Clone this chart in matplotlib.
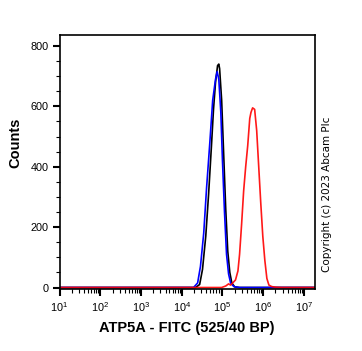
import numpy as np
import matplotlib.pyplot as plt
from matplotlib.ticker import LogLocator, MultipleLocator

plt.rcParams['font.family'] = ['Liberation Sans', 'DejaVu Sans']

# histogram curves: log10(intensity), counts
black_log = [1.0, 4.34, 4.44, 4.51, 4.59, 4.66, 4.73, 4.78, 4.83, 4.88, 4.91, 4.93,
             4.98, 5.03, 5.08, 5.13, 5.18, 5.23, 5.30, 5.42, 7.3]
black_cnt = [0, 0, 10, 60, 170, 310, 470, 590, 680, 735, 740, 725,
             620, 440, 260, 120, 50, 15, 2, 0, 0]

blue_log = [1.0, 4.29, 4.39, 4.46, 4.54, 4.61, 4.69, 4.76, 4.80, 4.83, 4.87, 4.91,
            4.96, 5.00, 5.05, 5.10, 5.15, 5.20, 5.28, 5.42, 7.3]
blue_cnt = [0, 0, 15, 70, 180, 330, 480, 620, 660, 690, 715, 690,
            580, 420, 250, 110, 45, 15, 3, 0, 0]

red_log = [1.0, 4.98, 5.08, 5.15, 5.20, 5.25, 5.32, 5.38, 5.42, 5.47, 5.52, 5.57,
           5.62, 5.67, 5.70, 5.74, 5.79, 5.84, 5.89, 5.94, 5.99, 6.04, 6.09,
           6.14, 6.21, 6.31, 6.45, 7.3]
red_cnt = [0, 0, 5, 12, 8, 15, 25, 55, 110, 210, 320, 400,
           470, 560, 580, 595, 590, 520, 400, 280, 170, 90, 30,
           8, 3, 1, 0, 0]

fig = plt.figure(figsize=(3.62, 3.51), dpi=100)
ax = fig.add_axes([0.1644, 0.1766, 0.7056, 0.7251])

ax.plot(10 ** np.array(black_log), black_cnt, color='black', lw=1.2)
ax.plot(10 ** np.array(blue_log), blue_cnt, color='#0000ff', lw=1.2)
ax.plot(10 ** np.array(red_log), red_cnt, color='#ff0000', lw=1.2, alpha=0.9)

ax.set_xscale('log')
ax.set_xlim(10, 10 ** 7.27)
ax.set_ylim(-5, 838)

ax.xaxis.set_major_locator(LogLocator(base=10, numticks=10))
ax.xaxis.set_minor_locator(LogLocator(base=10, subs=np.arange(2, 10), numticks=10))
ax.yaxis.set_major_locator(MultipleLocator(200))
ax.yaxis.set_minor_locator(MultipleLocator(50))

ax.tick_params(which='major', length=5, width=1.5, labelsize=7.8, pad=3)
ax.tick_params(which='minor', length=3, width=0.8)
ax.tick_params(axis='x', which='major', pad=3)
for s in ax.spines.values():
    s.set_linewidth(1.2)

fig.text(187 / 362, 1 - 328 / 351, 'ATP5A - FITC (525/40 BP)', fontsize=10.5,
         fontweight='bold', ha='center', va='center')
fig.text(15 / 362, 1 - 143 / 351, 'Counts', fontsize=10.5, fontweight='bold',
         rotation=90, ha='center', va='center')

fig.text(327 / 362, 1 - 194 / 351, 'Copyright (c) 2023 Abcam Plc', rotation=90,
         fontsize=7.5, family='DejaVu Sans', ha='center', va='center')

fig.savefig('out.png', dpi=100)
